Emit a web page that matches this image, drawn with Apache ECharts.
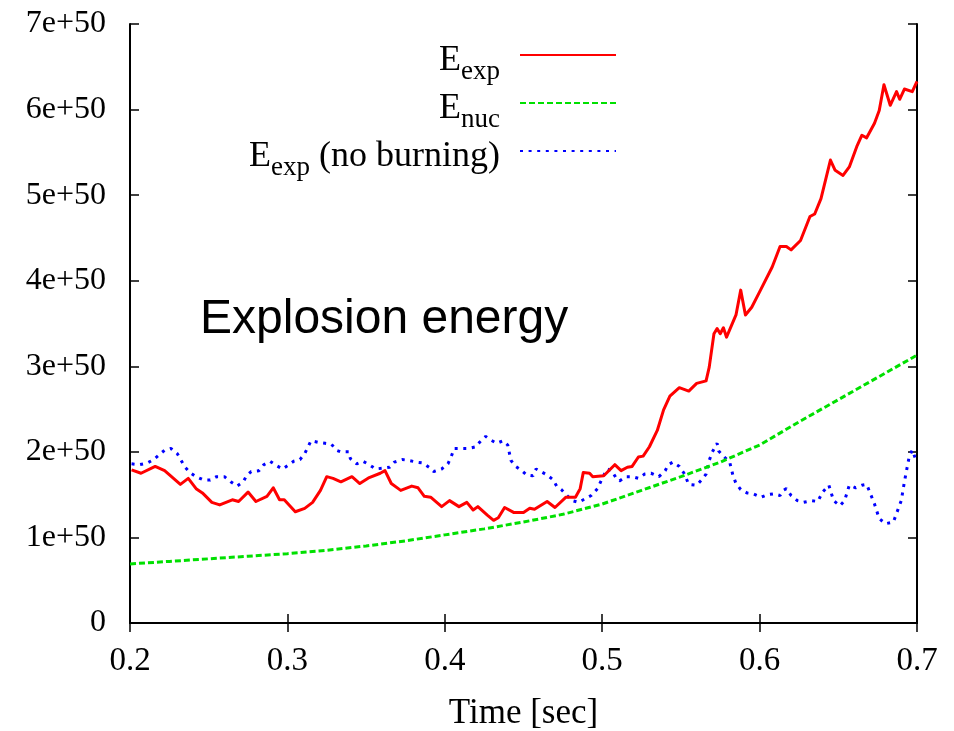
<!DOCTYPE html>
<html>
<head>
<meta charset="utf-8">
<script src="https://cdn.jsdelivr.net/npm/echarts@6/dist/echarts.min.js"></script>
<style>
  html, body { margin: 0; padding: 0; background: #fff; }
  #chart { width: 954px; height: 731px; }
</style>
</head>
<body>
<div id="chart"></div>
<script>
// energies in units of 1e50 erg, time in sec
var expTime = [0.201, 0.207, 0.216, 0.222, 0.232, 0.237, 0.242, 0.246, 0.252, 0.257, 0.265, 0.269, 0.275, 0.280, 0.287, 0.291, 0.295, 0.298, 0.305, 0.311, 0.316, 0.321, 0.325, 0.329, 0.334, 0.341, 0.346, 0.352, 0.359,
  0.362, 0.366, 0.372, 0.379, 0.383, 0.387, 0.391, 0.398, 0.403, 0.409, 0.414, 0.418, 0.421, 0.427, 0.431, 0.434, 0.438, 0.444, 0.450, 0.454, 0.457, 0.465, 0.470, 0.477, 0.483, 0.486, 0.488, 0.492, 0.494, 0.501, 0.508, 0.512, 0.516, 0.519,
  0.523, 0.526, 0.530, 0.535, 0.539, 0.543, 0.549, 0.555, 0.560, 0.566, 0.568, 0.571, 0.573, 0.575, 0.577, 0.579,
  0.585, 0.588, 0.591, 0.595, 0.600, 0.608, 0.613, 0.617, 0.620, 0.626, 0.632, 0.635, 0.639, 0.645, 0.648, 0.653, 0.657, 0.662, 0.665, 0.668, 0.673, 0.676, 0.679, 0.683, 0.687, 0.689, 0.692, 0.697, 0.700];
var expEnergy = [1.79, 1.75, 1.83, 1.78, 1.62, 1.69, 1.57, 1.52, 1.41, 1.38, 1.44, 1.42, 1.53, 1.42, 1.48, 1.58, 1.44, 1.44, 1.30, 1.34, 1.41, 1.55, 1.71, 1.69, 1.65, 1.71, 1.63, 1.70, 1.75,
  1.78, 1.63, 1.55, 1.60, 1.58, 1.48, 1.47, 1.36, 1.43, 1.36, 1.41, 1.32, 1.36, 1.26, 1.20, 1.23, 1.35, 1.29, 1.29, 1.34, 1.33, 1.42, 1.35, 1.47, 1.47, 1.57, 1.76, 1.75, 1.71, 1.72, 1.85, 1.78, 1.82, 1.83,
  1.94, 1.95, 2.06, 2.25, 2.49, 2.65, 2.75, 2.71, 2.80, 2.83, 2.99, 3.38, 3.44, 3.38, 3.45, 3.34,
  3.60, 3.89, 3.60, 3.69, 3.87, 4.16, 4.40, 4.40, 4.36, 4.47, 4.75, 4.78, 4.96, 5.41, 5.29, 5.23, 5.33, 5.58, 5.70, 5.67, 5.84, 5.99, 6.29, 6.05, 6.21, 6.12, 6.24, 6.21, 6.33];

var nucTime = [0.2, 0.225, 0.25, 0.275, 0.3, 0.325, 0.35, 0.375, 0.4, 0.425, 0.45, 0.475, 0.5, 0.525, 0.55, 0.575, 0.6, 0.625, 0.65, 0.675, 0.7];
var nucEnergy = [0.69, 0.72, 0.75, 0.78, 0.81, 0.85, 0.90, 0.96, 1.03, 1.10, 1.18, 1.27, 1.39, 1.55, 1.71, 1.88, 2.08, 2.35, 2.61, 2.87, 3.13];

var noBurnTime = [0.201, 0.206, 0.211, 0.215, 0.222, 0.226, 0.230, 0.235, 0.238, 0.242, 0.247, 0.251, 0.255, 0.260, 0.264, 0.268, 0.272, 0.274, 0.277, 0.282, 0.285, 0.289, 0.293, 0.297, 0.301, 0.304, 0.308, 0.311, 0.315, 0.320, 0.324, 0.328, 0.331, 0.334, 0.339, 0.340, 0.344, 0.348, 0.352, 0.356,
  0.361, 0.365, 0.368, 0.373, 0.377, 0.382, 0.386, 0.390, 0.393, 0.398, 0.402, 0.404, 0.406, 0.411, 0.415, 0.420, 0.422, 0.426, 0.429, 0.433, 0.437, 0.440, 0.442, 0.445, 0.449, 0.452, 0.456, 0.458, 0.462, 0.465, 0.469, 0.471, 0.474, 0.477, 0.481, 0.485, 0.489, 0.493, 0.497, 0.499, 0.503, 0.506, 0.509, 0.511, 0.515,
  0.519, 0.523, 0.527, 0.531, 0.536, 0.540, 0.542, 0.545, 0.549, 0.552, 0.555, 0.560, 0.563, 0.566, 0.568, 0.570, 0.573, 0.574, 0.577, 0.581, 0.583, 0.585, 0.588, 0.592, 0.596, 0.601, 0.605, 0.609, 0.613, 0.615, 0.617, 0.620, 0.624, 0.628, 0.633, 0.637, 0.640, 0.644, 0.647, 0.651, 0.654, 0.657, 0.661, 0.665, 0.668, 0.670, 0.673, 0.676, 0.680, 0.685, 0.687, 0.690, 0.692, 0.695, 0.697, 0.699];
var noBurnEnergy = [1.86, 1.85, 1.87, 1.91, 2.02, 2.04, 1.98, 1.82, 1.76, 1.71, 1.67, 1.67, 1.71, 1.71, 1.65, 1.60, 1.65, 1.72, 1.77, 1.78, 1.85, 1.89, 1.84, 1.80, 1.85, 1.89, 1.91, 1.98, 2.13, 2.11, 2.10, 2.09, 2.02, 2.00, 2.00, 1.92, 1.86, 1.89, 1.85, 1.80,
  1.81, 1.82, 1.88, 1.91, 1.90, 1.88, 1.87, 1.82, 1.77, 1.80, 1.86, 1.94, 2.04, 2.04, 2.04, 2.06, 2.11, 2.18, 2.14, 2.10, 2.13, 2.08, 1.90, 1.83, 1.78, 1.73, 1.72, 1.80, 1.76, 1.73, 1.67, 1.60, 1.56, 1.50, 1.43, 1.41, 1.45, 1.49, 1.57, 1.65, 1.80, 1.78, 1.69, 1.66, 1.71,
  1.71, 1.69, 1.74, 1.75, 1.71, 1.78, 1.85, 1.88, 1.83, 1.75, 1.62, 1.61, 1.67, 1.74, 1.90, 2.00, 2.10, 2.01, 1.95, 1.88, 1.73, 1.63, 1.56, 1.52, 1.51, 1.47, 1.50, 1.51, 1.49, 1.55, 1.57, 1.49, 1.43, 1.41, 1.43, 1.42, 1.53, 1.61, 1.43, 1.37, 1.43, 1.61, 1.58, 1.61, 1.62, 1.53, 1.39, 1.22, 1.16, 1.18, 1.28, 1.43, 1.65, 1.94, 2.02, 1.92];

var xTicks = [0.2, 0.3, 0.4, 0.5, 0.6, 0.7];
var yTicks = [0, 1, 2, 3, 4, 5, 6, 7];
var legendLabels = {
  'E_exp': '{m|E}{s|exp}',
  'E_nuc': '{m|E}{s|nuc}',
  'E_exp (no burning)': '{m|E}{s|exp}{m| (no burning)}'
};

function pairs(xs, ys) {
  return xs.map(function (x, i) { return [x, ys[i]]; });
}

var serif = 'Liberation Serif';
var chart = echarts.init(document.getElementById('chart'));

var frameAxis = {
  axisLine: { show: true, lineStyle: { color: '#000', width: 2 } },
  axisTick: { show: true, inside: true, length: 9, lineStyle: { color: '#000', width: 1.5 } },
  splitLine: { show: false }
};

var option = {
  animation: false,
  backgroundColor: '#fff',
  title: {
    text: 'Explosion energy',
    left: 195,
    top: 291,
    textStyle: { fontFamily: 'Liberation Sans', fontSize: 48, fontWeight: 'normal', color: '#000' }
  },
  legend: {
    orient: 'vertical',
    align: 'right',
    right: 332,
    top: 33,
    itemGap: 1,
    itemWidth: 96,
    itemHeight: 14,
    itemStyle: { opacity: 0 },
    data: ['E_exp', 'E_nuc', 'E_exp (no burning)'],
    formatter: function (name) { return legendLabels[name]; },
    textStyle: {
      color: '#000',
      padding: [0, 15, 0, 0],
      rich: {
        m: { fontFamily: serif, fontSize: 36, lineHeight: 34, verticalAlign: 'top', padding: [5, 0, 6, 0], color: '#000' },
        s: { fontFamily: serif, fontSize: 27, lineHeight: 26, verticalAlign: 'top', padding: [20, 0, 0, 0], color: '#000' }
      }
    }
  },
  grid: { left: 130, right: 37, top: 24, bottom: 108, outerBoundsMode: 'none' },
  xAxis: [
    Object.assign({
      type: 'value', min: xTicks[0], max: xTicks[xTicks.length - 1], interval: 0.1,
      position: 'bottom',
      name: 'Time [sec]', nameLocation: 'middle', nameGap: 73,
      nameTextStyle: { fontFamily: serif, fontSize: 35, color: '#000' },
      axisLabel: {
        margin: 22, color: '#000', fontFamily: serif, fontSize: 33,
        formatter: function (v) { return v.toFixed(1); }
      }
    }, frameAxis),
    Object.assign({
      type: 'value', min: xTicks[0], max: xTicks[xTicks.length - 1], interval: 0.1,
      position: 'top', axisLabel: { show: false }
    }, frameAxis)
  ],
  yAxis: [
    Object.assign({
      type: 'value', min: yTicks[0], max: yTicks[yTicks.length - 1], interval: 1,
      position: 'left',
      axisLabel: {
        margin: 24, color: '#000', fontFamily: serif, fontSize: 32,
        formatter: function (v) { return v === 0 ? '0' : Math.round(v) + 'e+50'; }
      }
    }, frameAxis),
    Object.assign({
      type: 'value', min: yTicks[0], max: yTicks[yTicks.length - 1], interval: 1,
      position: 'right', axisLabel: { show: false }
    }, frameAxis)
  ],
  series: [
    {
      name: 'E_exp', type: 'line', symbol: 'none', xAxisIndex: 0, yAxisIndex: 0,
      lineStyle: { color: '#ff0000', width: 3, join: 'round' },
      itemStyle: { color: '#ff0000' },
      data: pairs(expTime, expEnergy), z: 4
    },
    {
      name: 'E_nuc', type: 'line', symbol: 'none', xAxisIndex: 0, yAxisIndex: 0,
      lineStyle: { color: '#00e000', width: 3, type: [6, 3] },
      itemStyle: { color: '#00e000' },
      data: pairs(nucTime, nucEnergy), z: 3
    },
    {
      name: 'E_exp (no burning)', type: 'line', symbol: 'none', xAxisIndex: 0, yAxisIndex: 0,
      lineStyle: { color: '#0000ff', width: 3, type: [3, 5.6] },
      itemStyle: { color: '#0000ff' },
      data: pairs(noBurnTime, noBurnEnergy), z: 2
    }
  ]
};

chart.setOption(option);
</script>
</body>
</html>
